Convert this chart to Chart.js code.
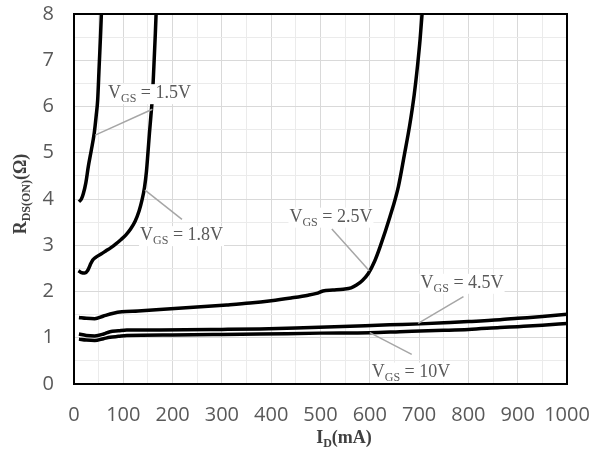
<!DOCTYPE html>
<html lang="en">
<head>
<meta charset="UTF-8">
<title>RDS(ON) vs ID</title>
<script src="https://cdn.jsdelivr.net/npm/chart.js"></script>
<style>
  body { margin: 0; background: #fff; }
</style>
</head>
<body>
<canvas id="rdsChart" width="600" height="454"></canvas>

<script>
    // tick labels
    const xTicks = [0, 100, 200, 300, 400, 500, 600, 700, 800, 900, 1000];
    const yTicks = [0, 1, 2, 3, 4, 5, 6, 7, 8];

    // curves: ID in mA, RDS(ON) in ohm
    const id15  = [10, 15, 19, 24, 29, 35, 41, 45, 48, 51, 54, 55.5];
    const rds15 = [3.94, 4.0, 4.12, 4.35, 4.70, 5.05, 5.42, 5.8, 6.14, 6.86, 7.58, 8.0];

    const id18  = [9, 15, 22, 28, 33, 38, 44, 55, 65, 75, 85, 95, 105, 114, 124, 132, 138, 143, 147, 150, 153, 156, 159, 162, 165, 166.5];
    const rds18 = [2.45, 2.41, 2.40, 2.46, 2.58, 2.68, 2.74, 2.81, 2.88, 2.95, 3.03, 3.12, 3.22, 3.34, 3.52, 3.74, 3.98, 4.25, 4.6, 5.0, 5.42, 5.8, 6.2, 6.86, 7.58, 8.0];

    const id25  = [10, 25, 42, 60, 80, 97, 130, 174, 242, 310, 357, 400, 440, 475, 492, 505, 525, 546, 562, 573, 585, 597, 610, 621, 641, 658, 670, 681, 690, 697, 702, 706];
    const rds25 = [1.44, 1.42, 1.41, 1.47, 1.53, 1.56, 1.58, 1.61, 1.66, 1.71, 1.75, 1.80, 1.86, 1.92, 1.96, 2.01, 2.03, 2.05, 2.08, 2.14, 2.24, 2.39, 2.66, 2.97, 3.62, 4.27, 4.95, 5.6, 6.25, 6.9, 7.45, 8.0];

    const id45  = [10, 25, 42, 60, 73, 90, 107, 174, 300, 377, 450, 560, 640, 702, 763, 800, 864, 900, 950, 1000];
    const rds45 = [1.08, 1.05, 1.04, 1.08, 1.13, 1.15, 1.17, 1.17, 1.18, 1.19, 1.21, 1.25, 1.28, 1.30, 1.33, 1.35, 1.39, 1.42, 1.46, 1.51];

    const id10  = [10, 25, 42, 60, 73, 90, 107, 200, 300, 377, 500, 600, 661, 750, 800, 864, 900, 950, 1000];
    const rds10 = [0.97, 0.95, 0.94, 0.98, 1.01, 1.03, 1.05, 1.06, 1.07, 1.08, 1.10, 1.11, 1.13, 1.16, 1.18, 1.22, 1.24, 1.27, 1.31];

    const vgsNames = ['1.5V', '1.8V', '2.5V', '4.5V', '10V'];

    function toPoints(xs, ys) {
        return xs.map((x, i) => ({ x: x, y: ys[i] }));
    }

    // callouts in data units: text left / baseline, leader start / end
    const callouts = [
        { text: vgsNames[0], x: 69,  y: 6.18, x1: 43,  y1: 5.38, x2: 159, y2: 5.94 },
        { text: vgsNames[1], x: 134, y: 3.11, x1: 144, y1: 4.19, x2: 219, y2: 3.56 },
        { text: vgsNames[2], x: 437, y: 3.51, x1: 523, y1: 3.35, x2: 599, y2: 2.45 },
        { text: vgsNames[3], x: 703, y: 2.08, x1: 790, y1: 1.89, x2: 698, y2: 1.31 },
        { text: vgsNames[4], x: 604, y: 0.16, x1: 685, y1: 0.64, x2: 600, y2: 1.11 }
    ];

    const serif = "'Liberation Serif', 'Times New Roman', serif";

    // draws main + subscript + rest starting at (x, y) baseline, returns width
    function drawSubText(ctx, x, y, main, sub, rest, size, bold, draw) {
        const w = bold ? 'bold ' : '';
        const subSize = Math.round(size * 0.68);
        ctx.font = w + size + 'px ' + serif;
        const w1 = ctx.measureText(main).width;
        const w3 = ctx.measureText(rest).width;
        ctx.font = w + subSize + 'px ' + serif;
        const w2 = ctx.measureText(sub).width;
        if (draw) {
            ctx.textBaseline = 'alphabetic';
            ctx.textAlign = 'left';
            ctx.font = w + size + 'px ' + serif;
            ctx.fillText(main, x, y);
            ctx.font = w + subSize + 'px ' + serif;
            ctx.fillText(sub, x + w1, y + size * 0.22);
            ctx.font = w + size + 'px ' + serif;
            ctx.fillText(rest, x + w1 + w2, y);
        }
        return w1 + w2 + w3;
    }

    const decorations = {
        id: 'decorations',
        afterDatasetsDraw(chart) {
            const ctx = chart.ctx;
            const area = chart.chartArea;
            const xs = chart.scales.x;
            const ys = chart.scales.y;
            ctx.save();

            // plot frame
            ctx.strokeStyle = '#000';
            ctx.lineWidth = 2;
            ctx.strokeRect(area.left, area.top, area.right - area.left, area.bottom - area.top);

            // white boxes behind callout text
            callouts.forEach(c => {
                const px = xs.getPixelForValue(c.x);
                const py = ys.getPixelForValue(c.y);
                const w = drawSubText(ctx, px, py, 'V', 'GS', ' = ' + c.text, 18, false, false);
                ctx.fillStyle = '#fff';
                ctx.fillRect(px - 1, py - 14, w + 2, 20);
            });

            // leader lines
            ctx.strokeStyle = '#a6a6a6';
            ctx.lineWidth = 1.5;
            callouts.forEach(c => {
                ctx.beginPath();
                ctx.moveTo(xs.getPixelForValue(c.x1), ys.getPixelForValue(c.y1));
                ctx.lineTo(xs.getPixelForValue(c.x2), ys.getPixelForValue(c.y2));
                ctx.stroke();
            });

            // callout text
            ctx.fillStyle = '#595959';
            callouts.forEach(c => {
                drawSubText(ctx, xs.getPixelForValue(c.x), ys.getPixelForValue(c.y),
                    'V', 'GS', ' = ' + c.text, 18, false, true);
            });

            // axis titles
            ctx.fillStyle = '#404040';
            const tw = drawSubText(ctx, 0, 0, 'I', 'D', '(mA)', 18, true, false);
            drawSubText(ctx, 344 - tw / 2, 443, 'I', 'D', '(mA)', 18, true, true);

            ctx.translate(26, 194);
            ctx.rotate(-Math.PI / 2);
            const rw = drawSubText(ctx, 0, 0, 'R', 'DS(ON)', '(\u03A9)', 18, true, false);
            drawSubText(ctx, -rw / 2, 0, 'R', 'DS(ON)', '(\u03A9)', 18, true, true);

            ctx.restore();
        }
    };

    const curve = (xs, ys) => ({
        data: toPoints(xs, ys),
        borderColor: '#000',
        borderWidth: 3.5,
        pointRadius: 0,
        fill: false,
        cubicInterpolationMode: 'monotone'
    });

    const tickFont = { family: "'Open Sans', 'Noto Sans', sans-serif", size: 20 };

    new Chart(document.getElementById('rdsChart').getContext('2d'), {
        type: 'line',
        data: {
            datasets: [
                curve(id15, rds15),
                curve(id18, rds18),
                curve(id25, rds25),
                curve(id45, rds45),
                curve(id10, rds10)
            ]
        },
        options: {
            responsive: false,
            animation: false,
            devicePixelRatio: 1,
            layout: { padding: { top: 14, right: 33, left: 0, bottom: 0 } },
            plugins: {
                legend: { display: false },
                tooltip: { enabled: false }
            },
            scales: {
                x: {
                    type: 'linear',
                    min: 0,
                    max: 1000,
                    border: { display: false },
                    grid: {
                        drawTicks: false,
                        color: c => (c.tick && xTicks.includes(c.tick.value)) ? '#d9d9d9' : '#ebebeb'
                    },
                    ticks: {
                        stepSize: 50,
                        autoSkip: false,
                        maxRotation: 0,
                        padding: 19,
                        color: '#595959',
                        font: tickFont,
                        callback: v => xTicks.includes(v) ? String(v) : ''
                    },
                    afterFit: s => {
                        s.height = 70;
                        s.paddingLeft = 0;
                        s.paddingRight = 0;
                    }
                },
                y: {
                    min: 0,
                    max: 8,
                    border: { display: false },
                    grid: {
                        drawTicks: false,
                        color: c => (c.tick && yTicks.includes(c.tick.value)) ? '#d9d9d9' : '#ebebeb'
                    },
                    ticks: {
                        stepSize: 0.5,
                        autoSkip: false,
                        padding: 20,
                        color: '#595959',
                        font: tickFont,
                        callback: v => yTicks.includes(v) ? String(v) : ''
                    },
                    afterFit: s => {
                        s.width = 74;
                        s.paddingTop = 0;
                        s.paddingBottom = 0;
                    }
                }
            }
        },
        plugins: [decorations]
    });
</script>
</body>
</html>
